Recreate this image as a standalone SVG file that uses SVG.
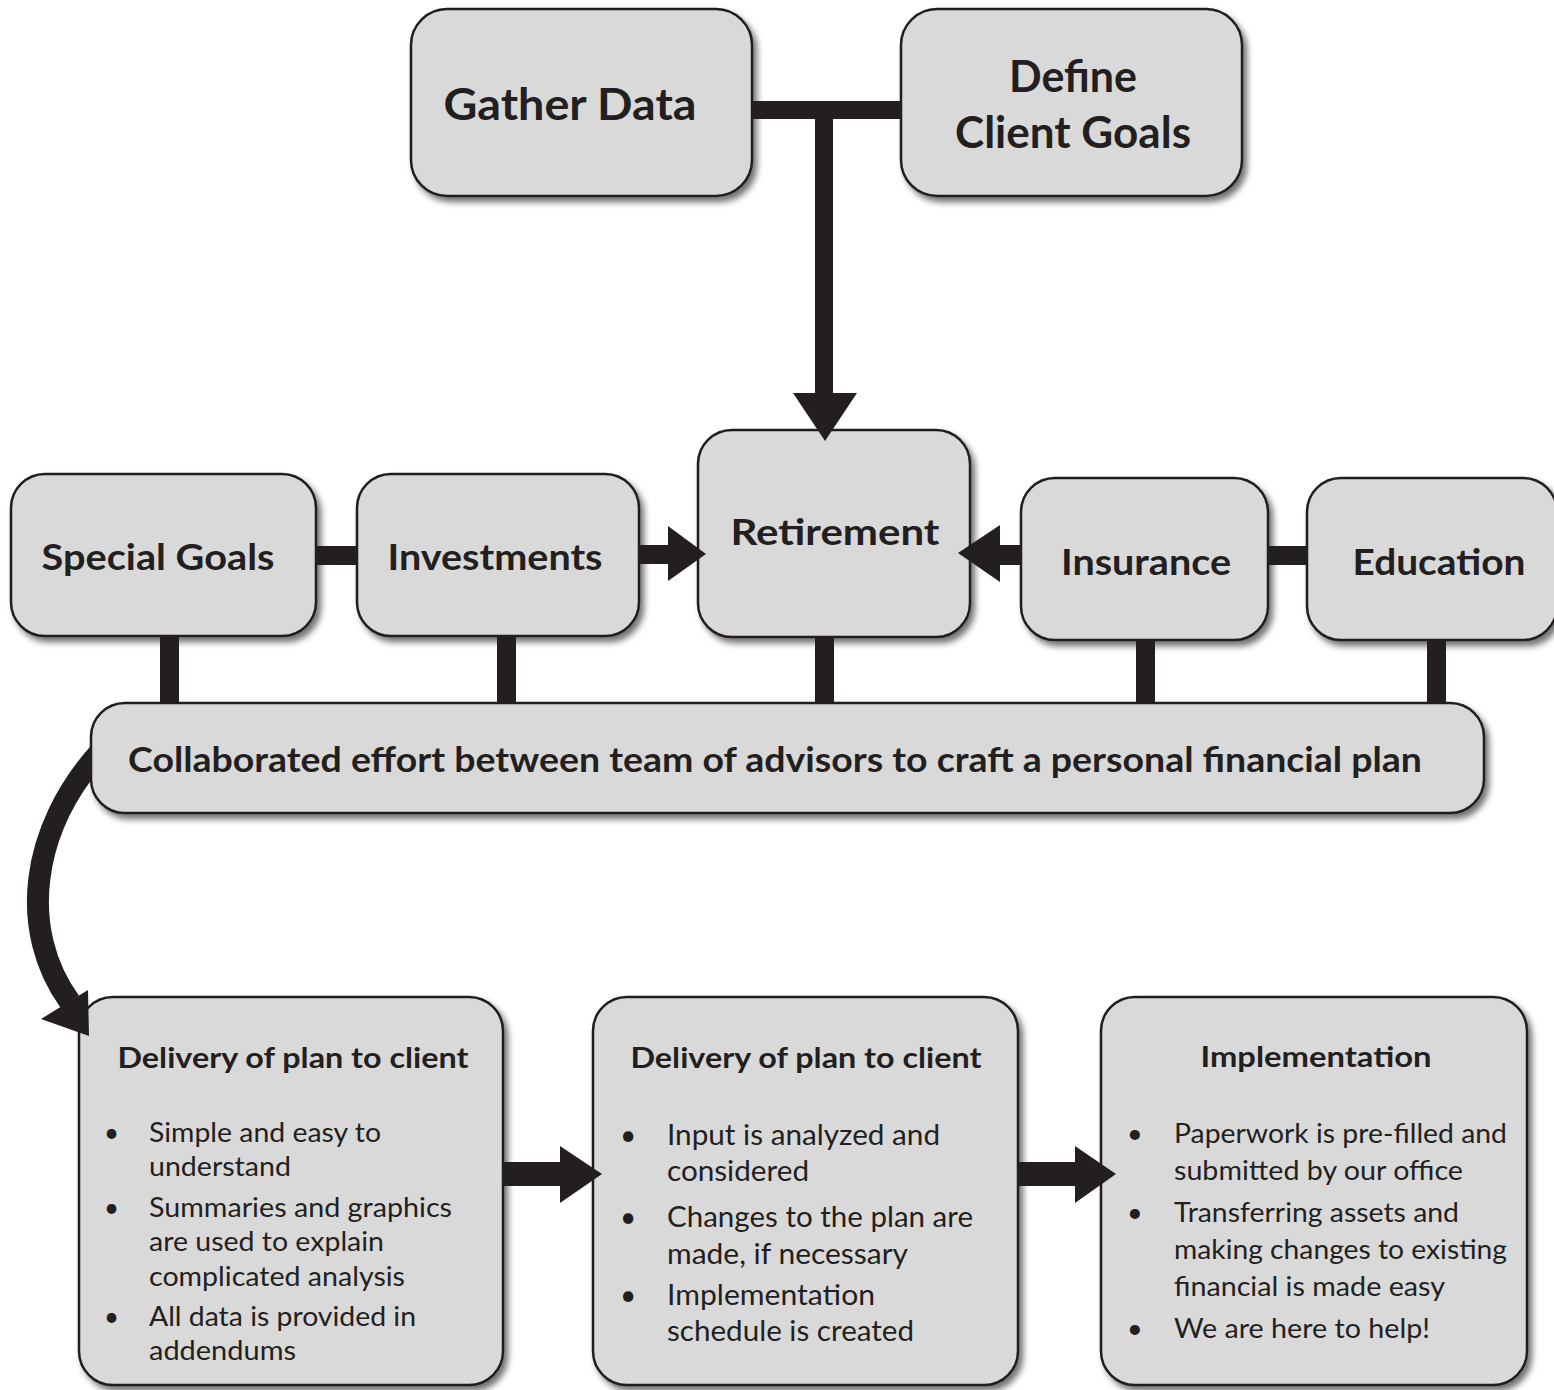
<svg xmlns="http://www.w3.org/2000/svg" width="1554" height="1390" viewBox="0 0 1554 1390">
<defs>
<filter id="sh" x="-10%" y="-10%" width="125%" height="130%">
<feDropShadow dx="4" dy="5" stdDeviation="3" flood-color="#000" flood-opacity="0.55"/>
</filter>
<clipPath id="cl"><rect x="0" y="700" width="92" height="400"/></clipPath>
</defs>
<style>
.box{fill:#d9d9d9;stroke:#231f20;stroke-width:2.5;filter:url(#sh)}
.t{font-family:Lato,"Open Sans","Noto Sans",sans-serif;font-weight:bold;fill:#231f20}
.b{font-family:Lato,"Open Sans","Noto Sans",sans-serif;fill:#231f20}
.bar{fill:#231f20}
.c{fill:none;stroke:#231f20;stroke-width:22}
</style>
<rect width="1554" height="1390" fill="#fff"/>
<g id="gather-data">
<rect class="box" x="411" y="9" width="341" height="187" rx="36"/>
<text class="t" x="570" y="120" font-size="44" text-anchor="middle" textLength="253" lengthAdjust="spacingAndGlyphs">Gather Data</text>
</g>
<g id="define-client-goals">
<rect class="box" x="901" y="9" width="341" height="187" rx="36"/>
<text class="t" x="1073" y="92" font-size="44" text-anchor="middle" textLength="128" lengthAdjust="spacingAndGlyphs">Define</text>
<text class="t" x="1073" y="148" font-size="44" text-anchor="middle" textLength="236" lengthAdjust="spacingAndGlyphs">Client Goals</text>
</g>
<g id="special-goals">
<rect class="box" x="11" y="474" width="305" height="162" rx="34"/>
<text class="t" x="158" y="570" font-size="37" text-anchor="middle" textLength="233" lengthAdjust="spacingAndGlyphs">Special Goals</text>
</g>
<g id="investments">
<rect class="box" x="357" y="474" width="282" height="162" rx="34"/>
<text class="t" x="495" y="570" font-size="37" text-anchor="middle" textLength="215" lengthAdjust="spacingAndGlyphs">Investments</text>
</g>
<g id="retirement">
<rect class="box" x="698" y="430" width="272" height="207" rx="34"/>
<text class="t" x="835" y="545" font-size="37" text-anchor="middle" textLength="209" lengthAdjust="spacingAndGlyphs">Retirement</text>
</g>
<g id="insurance">
<rect class="box" x="1021" y="478" width="247" height="162" rx="34"/>
<text class="t" x="1146" y="575" font-size="37" text-anchor="middle" textLength="170" lengthAdjust="spacingAndGlyphs">Insurance</text>
</g>
<g id="education">
<rect class="box" x="1307" y="478" width="250" height="162" rx="34"/>
<text class="t" x="1439" y="575" font-size="37" text-anchor="middle" textLength="173" lengthAdjust="spacingAndGlyphs">Education</text>
</g>
<g id="collaboration">
<rect class="box" x="91" y="703" width="1393" height="110" rx="34"/>
<text class="t" x="775" y="772" font-size="34" text-anchor="middle" textLength="1294" lengthAdjust="spacingAndGlyphs">Collaborated effort between team of advisors to craft a personal financial plan</text>
</g>
<g id="delivery-1">
<rect class="box" x="79" y="997" width="424" height="388" rx="34"/>
<text class="t" x="293" y="1068" font-size="28" text-anchor="middle" textLength="351" lengthAdjust="spacingAndGlyphs">Delivery of plan to client</text>
<g class="b" font-size="26">
<text x="104" y="1142">•</text><text x="149" y="1142" textLength="232" lengthAdjust="spacingAndGlyphs">Simple and easy to</text>
<text x="149" y="1176" textLength="142" lengthAdjust="spacingAndGlyphs">understand</text>
<text x="104" y="1217">•</text><text x="149" y="1217" textLength="303" lengthAdjust="spacingAndGlyphs">Summaries and graphics</text>
<text x="149" y="1251" textLength="235" lengthAdjust="spacingAndGlyphs">are used to explain</text>
<text x="149" y="1286" textLength="256" lengthAdjust="spacingAndGlyphs">complicated analysis</text>
<text x="104" y="1326">•</text><text x="149" y="1326" textLength="267" lengthAdjust="spacingAndGlyphs">All data is provided in</text>
<text x="149" y="1360" textLength="147" lengthAdjust="spacingAndGlyphs">addendums</text>
</g>
</g>
<g id="delivery-2">
<rect class="box" x="593" y="997" width="425" height="388" rx="34"/>
<text class="t" x="806" y="1068" font-size="28" text-anchor="middle" textLength="351" lengthAdjust="spacingAndGlyphs">Delivery of plan to client</text>
<g class="b" font-size="28">
<text x="620" y="1145">•</text><text x="667" y="1145" textLength="273" lengthAdjust="spacingAndGlyphs">Input is analyzed and</text>
<text x="667" y="1181" textLength="142" lengthAdjust="spacingAndGlyphs">considered</text>
<text x="620" y="1227">•</text><text x="667" y="1227" textLength="306" lengthAdjust="spacingAndGlyphs">Changes to the plan are</text>
<text x="667" y="1264" textLength="241" lengthAdjust="spacingAndGlyphs">made, if necessary</text>
<text x="620" y="1305">•</text><text x="667" y="1305" textLength="208" lengthAdjust="spacingAndGlyphs">Implementation</text>
<text x="667" y="1341" textLength="247" lengthAdjust="spacingAndGlyphs">schedule is created</text>
</g>
</g>
<g id="implementation">
<rect class="box" x="1101" y="997" width="426" height="388" rx="34"/>
<text class="t" x="1316" y="1067" font-size="28" text-anchor="middle" textLength="231" lengthAdjust="spacingAndGlyphs">Implementation</text>
<g class="b" font-size="27">
<text x="1127" y="1143">•</text><text x="1174" y="1143" textLength="333" lengthAdjust="spacingAndGlyphs">Paperwork is pre-filled and</text>
<text x="1174" y="1180" textLength="289" lengthAdjust="spacingAndGlyphs">submitted by our office</text>
<text x="1127" y="1222">•</text><text x="1174" y="1222" textLength="285" lengthAdjust="spacingAndGlyphs">Transferring assets and</text>
<text x="1174" y="1259" textLength="333" lengthAdjust="spacingAndGlyphs">making changes to existing</text>
<text x="1174" y="1296" textLength="271" lengthAdjust="spacingAndGlyphs">financial is made easy</text>
<text x="1127" y="1338">•</text><text x="1174" y="1338" textLength="256" lengthAdjust="spacingAndGlyphs">We are here to help!</text>
</g>
</g>
<g id="connectors">
<rect class="bar" x="752" y="101" width="149" height="18"/>
<rect class="bar" x="815" y="118" width="18" height="277"/>
<polygon class="bar" points="793,393 857,393 825,441"/>
<rect class="bar" x="316" y="546" width="41" height="19"/>
<rect class="bar" x="639" y="545" width="31" height="19"/>
<polygon class="bar" points="668,526 706,554 668,581"/>
<rect class="bar" x="998" y="545" width="23" height="20"/>
<polygon class="bar" points="1000,525 958,553 1000,582"/>
<rect class="bar" x="1268" y="546" width="39" height="19"/>
<rect class="bar" x="160" y="636" width="19" height="67"/>
<rect class="bar" x="497" y="636" width="19" height="67"/>
<rect class="bar" x="815" y="637" width="19" height="66"/>
<rect class="bar" x="1136" y="640" width="19" height="63"/>
<rect class="bar" x="1427" y="640" width="19" height="63"/>
<path class="c" clip-path="url(#cl)" d="M100,752 C30,830 18,930 70,1002"/>
<polygon class="bar" points="41,1019 88,990 89,1036"/>
<rect class="bar" x="503" y="1162" width="59" height="24"/>
<polygon class="bar" points="560,1146 602,1174 560,1203"/>
<rect class="bar" x="1018" y="1162" width="59" height="24"/>
<polygon class="bar" points="1075,1146 1116,1174 1075,1203"/>
</g>
</svg>
